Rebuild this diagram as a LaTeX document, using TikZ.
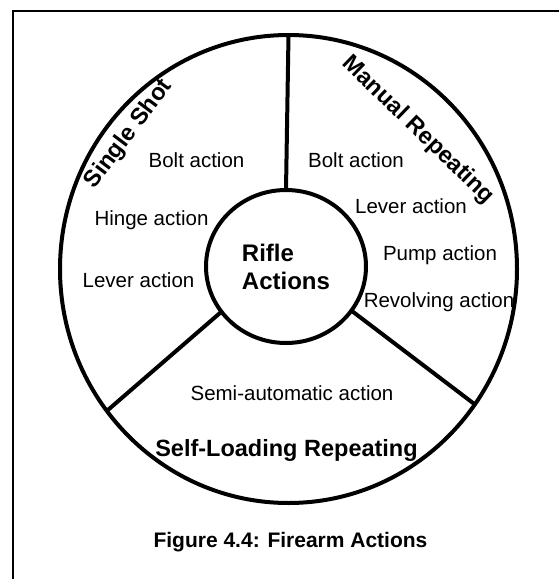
\documentclass[tikz,border=0pt]{standalone}
\usepackage{fontspec}
\setmainfont{Liberation Sans}
\usetikzlibrary{positioning, shapes}
\tikzstyle{ring}    = [ellipse, draw, line width=4pt, inner sep=0pt, outer sep=0pt]
\tikzstyle{item}    = [anchor=base, inner sep=0pt, font=\fontsize{20.5}{24}\selectfont]
\tikzstyle{group}   = [inner sep=0pt, font=\bfseries\fontsize{23.5}{28}\selectfont]
\tikzstyle{divider} = [line width=4pt]

\begin{document}
\begin{tikzpicture}[x=1pt, y=-1pt]
    \useasboundingbox (0,0) rectangle (559,579);
    % 外框
    \draw [line width=1.5pt] (559,11) -| (13,579);

    % 外圈
    \node [ring, minimum width=457pt, minimum height=468pt] (outer) at (288.5,269) {};

    % 中心圆
    \node [ring, minimum width=160pt, minimum height=153pt, align=left,
           font=\bfseries\fontsize{24}{28}\selectfont] (rifle) at (286,266.5) {Rifle\\Actions};

    % 分隔线
    \draw [divider] (rifle.90) -- (outer.90);
    \draw [divider] (rifle.215) -- (outer.218);
    \draw [divider] (rifle.-34) -- (outer.-36);

    % 类别标题
    \node [group, rotate=53] (single) at (129,134) {Single Shot};
    \node [group, rotate=-44] (manual) at (418,130) {Manual Repeating};
    \node [group, anchor=base] (selfload) at (286.5,456) {Self-Loading Repeating};

    % 单发
    \node [item] (ssbolt) at (196.5,167) {Bolt action};
    \node [item] (sshinge) at (151.5,225) {Hinge action};
    \node [item] (sslever) at (138.5,287) {Lever action};

    % 手动连发
    \node [item] (mrbolt) at (356,167) {Bolt action};
    \node [item] (mrlever) at (411,213) {Lever action};
    \node [item] (mrpump) at (440,260) {Pump action};
    \node [item] (mrrevolve) at (439,307) {Revolving action};

    % 自动装填
    \node [item] (slsemi) at (292,400) {Semi-automatic action};

    % 图题
    \node [anchor=base, inner sep=0pt, font=\bfseries\fontsize{21}{25}\selectfont] (caption) at (290.5,547) {Figure 4.4: Firearm Actions};
\end{tikzpicture}
\end{document}
